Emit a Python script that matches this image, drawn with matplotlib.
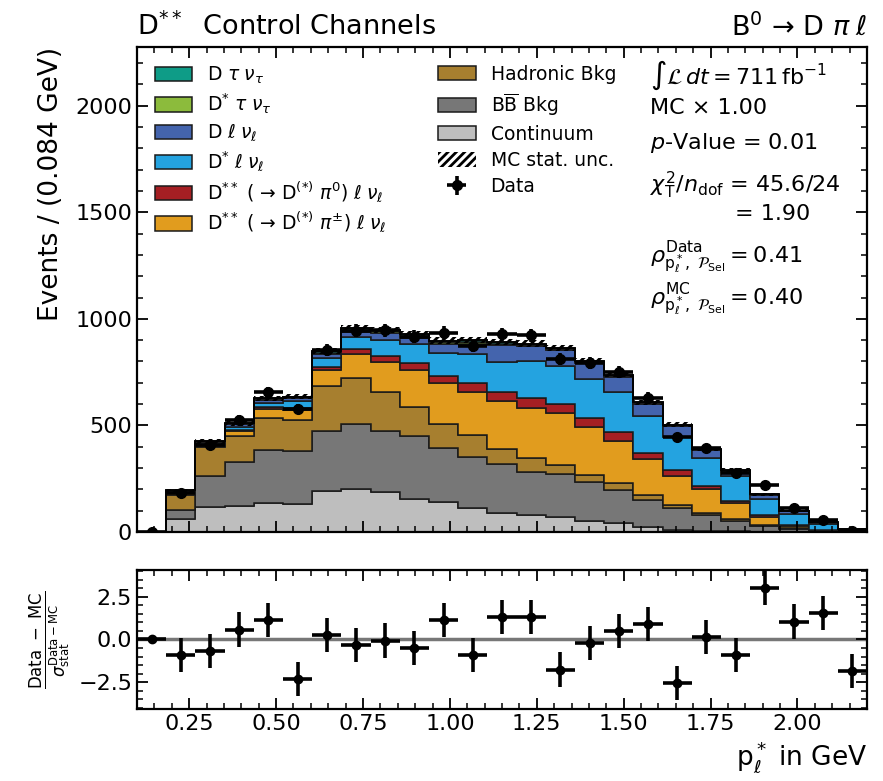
import numpy as np
import matplotlib
matplotlib.use("Agg")
import matplotlib.pyplot as plt
from matplotlib.patches import Patch
from matplotlib.ticker import MultipleLocator

plt.rcParams['font.family'] = ['DejaVu Sans']
plt.rcParams['mathtext.fontset'] = 'dejavusans'
plt.rcParams['hatch.linewidth'] = 2.0

# ---------------- data ----------------
bin_low = 0.1
bin_width = 0.084
n_bins = 25

continuum = [0, 59, 119, 123, 136, 131, 194, 203, 186, 156, 139, 114, 91, 81, 69, 53, 41, 25, 10, 5, 3, 1, 0, 0, 0]
bb_bkg    = [0, 44, 144, 204, 248, 247, 281, 303, 290, 293, 253, 239, 228, 202, 201, 180, 156, 125, 101, 75, 50, 27, 14, 3, 1]
hadronic  = [0, 70, 134, 123, 153, 147, 208, 217, 180, 138, 117, 100, 69, 62, 44, 34, 31, 22, 16, 11, 8, 5, 3, 1, 0]
dss_pipm  = [0, 12, 8, 23, 41, 47, 76, 113, 142, 172, 188, 206, 227, 238, 242, 227, 200, 172, 137, 109, 77, 39, 13, 4, 0]
dss_pi0   = [0, 2, 2, 5, 7, 11, 16, 22, 28, 32, 34, 38, 44, 45, 43, 42, 39, 28, 27, 17, 9, 8, 4, 1, 0]
ds_lnu    = [0, 3, 6, 13, 18, 30, 39, 55, 77, 89, 107, 136, 139, 174, 179, 180, 191, 172, 156, 128, 117, 73, 52, 28, 11]
d_lnu     = [0, 3, 8, 15, 16, 14, 23, 26, 31, 32, 46, 51, 78, 70, 75, 75, 70, 56, 50, 39, 19, 19, 12, 6, 2]
ds_taunu  = [0, 1, 2, 2, 4, 4, 5, 8, 7, 9, 7, 8, 8, 6, 6, 5, 5, 4, 3, 3, 3, 2, 1, 1, 0]
d_taunu   = [0, 1, 2, 2, 4, 4, 5, 8, 7, 9, 7, 8, 8, 6, 6, 5, 5, 4, 3, 3, 3, 2, 1, 1, 0]
mc_stat_unc = [0, 7, 10, 11, 12, 12, 14, 15, 15, 15, 15, 15, 15, 15, 14, 14, 13, 12, 11, 10, 9, 7, 6, 4, 3]

data = [0, 183, 409, 525, 656, 578, 855, 945, 946, 916, 934, 872, 928, 922, 810, 795, 750, 630, 445, 393, 275, 220, 112, 57, 7]

pulls = [0.0, -0.93, -0.68, 0.58, 1.12, -2.29, 0.25, -0.33, -0.06, -0.48, 1.16, -0.93, 1.32, 1.32,
         -1.76, -0.19, 0.50, 0.91, -2.56, 0.16, -0.91, 3.02, 1.05, 1.55, -1.86]
pull_err = [0] + [1] * 24

labels = [
    r"D $\tau\;\nu_\tau$",
    r"D$^{*}$ $\tau\;\nu_\tau$",
    r"D $\ell\;\nu_\ell$",
    r"D$^{*}$ $\ell\;\nu_\ell$",
    r"D$^{**}$ ( → D$^{(*)}$ $\pi^0$) $\ell\;\nu_\ell$",
    r"D$^{**}$ ( → D$^{(*)}$ $\pi^{\pm}$) $\ell\;\nu_\ell$",
    "Hadronic Bkg",
    r"B$\overline{\mathrm{B}}$ Bkg",
    "Continuum",
]
colors = ["#0E9C87", "#8CBB3C", "#4464AD", "#24A3E0", "#A51F23", "#E19C1E",
          "#A77F2F", "#777777", "#BEBEBE"]
components = [d_taunu, ds_taunu, d_lnu, ds_lnu, dss_pi0, dss_pipm, hadronic, bb_bkg, continuum]

# ---------------- figure ----------------
edges = bin_low + bin_width * np.arange(n_bins + 1)
centers = 0.5 * (edges[:-1] + edges[1:])

fig = plt.figure(figsize=(8.83, 7.81), dpi=100)
ax = fig.add_axes([0.1552, 0.3188, 0.8267, 0.621])
axp = fig.add_axes([0.1552, 0.0922, 0.8267, 0.178], sharex=ax)

# stacked histogram, bottom (continuum) to top
base = np.zeros(n_bins)
for comp, col in zip(components[::-1], colors[::-1]):
    vals = np.asarray(comp, dtype=float)
    ax.stairs(base + vals, edges, baseline=base.copy(), fill=True,
              facecolor=col, edgecolor="#1a1a1a", linewidth=1.1)
    base = base + vals
total = base
unc = np.asarray(mc_stat_unc, dtype=float)
ax.stairs(total + unc, edges, baseline=total - unc, fill=True,
          facecolor="none", edgecolor="black", hatch="////", linewidth=0)
ax.stairs(total, edges, color="black", linewidth=1.3)

d = np.asarray(data, dtype=float)
eb = ax.errorbar(centers, d, xerr=bin_width / 2, yerr=np.sqrt(d), fmt="o", color="black",
                 ms=7, elinewidth=2.6, capsize=0)

ax.set_xlim(edges[0], edges[-1])
ax.set_ylim(0, 2275)
ax.set_ylabel("Events / (0.084 GeV)", fontsize=19, labelpad=8, loc="top")
ax.yaxis.set_major_locator(MultipleLocator(500))
ax.yaxis.set_minor_locator(MultipleLocator(100))
ax.xaxis.set_major_locator(MultipleLocator(0.25))
ax.xaxis.set_minor_locator(MultipleLocator(0.05))
for a in (ax, axp):
    a.tick_params(which="both", direction="in", top=True, right=True, labelsize=16)
    a.tick_params(which="major", length=8, width=1.3)
    a.tick_params(which="minor", length=4, width=1.1)
    for s in a.spines.values():
        s.set_linewidth(1.6)
ax.tick_params(labelbottom=False)

# legend (two columns drawn as two legends so rows keep equal spacing)
handles = [Patch(facecolor=c, edgecolor="#1a1a1a", linewidth=1.1) for c in colors]
handles.append(Patch(facecolor="none", edgecolor="black", hatch="////", linewidth=0))
handles.append(eb)
leg_labels = labels + ["MC stat. unc.", "Data"]
leg_kw = dict(loc="upper left", frameon=False, fontsize=13.5, handlelength=2.0,
              handleheight=0.8, handletextpad=0.8, borderaxespad=0.55)
leg1 = ax.legend(handles[:6], leg_labels[:6], bbox_to_anchor=(0.0, 1.0),
                 labelspacing=0.28, **leg_kw)
ax.add_artist(leg1)
ax.legend(handles[6:], leg_labels[6:], bbox_to_anchor=(0.388, 1.0),
          labelspacing=0.38, **leg_kw)

# info text
tx = 0.703
ax.text(tx, 0.942, r"$\int\mathcal{L}\,dt = 711\,\mathrm{fb}^{-1}$", transform=ax.transAxes,
        fontsize=16, va="center", ha="left")
ax.text(tx, 0.874, "MC × 1.00", transform=ax.transAxes, fontsize=16, va="center", ha="left")
ax.text(tx, 0.802, r"$p$-Value = 0.01", transform=ax.transAxes, fontsize=16, va="center", ha="left")
ax.text(tx, 0.715, r"$\chi^2_\mathrm{T}/n_\mathrm{dof}$ = 45.6/24", transform=ax.transAxes,
        fontsize=16, va="center", ha="left")
ax.text(0.819, 0.656, "= 1.90", transform=ax.transAxes, fontsize=16, va="center", ha="left")
ax.text(tx, 0.566, r"$\rho^{\mathrm{Data}}_{\mathrm{p}^*_\ell,\ \mathcal{P}_\mathrm{Sel}} = 0.41$",
        transform=ax.transAxes, fontsize=16, va="center", ha="left")
ax.text(tx, 0.480, r"$\rho^{\mathrm{MC}}_{\mathrm{p}^*_\ell,\ \mathcal{P}_\mathrm{Sel}} = 0.40$",
        transform=ax.transAxes, fontsize=16, va="center", ha="left")

# titles
ax.text(0.0, 1.012, r"D$^{**}$  Control Channels", transform=ax.transAxes, fontsize=19.5,
        va="bottom", ha="left")
ax.text(1.0, 1.012, r"B$^0$ → D $\pi\;\ell$", transform=ax.transAxes, fontsize=19.5,
        va="bottom", ha="right")

# pull panel
axp.axhline(0, color="#777777", linewidth=2.5, zorder=1)
axp.errorbar(centers, pulls, xerr=bin_width / 2, yerr=pull_err, fmt="o", color="black",
             ms=6, elinewidth=2.6, capsize=0, zorder=3)
axp.set_ylim(-4.07, 4.07)
axp.yaxis.set_major_locator(MultipleLocator(2.5))
axp.yaxis.set_minor_locator(MultipleLocator(0.5))
axp.set_ylabel(r"$\frac{\mathrm{Data}\ -\ \mathrm{MC}}{\sigma^{\mathrm{Data-MC}}_{\mathrm{stat}}}$",
               fontsize=17, labelpad=4)
axp.set_xlabel(r"p$^*_\ell$ in GeV", fontsize=19, loc="right")

fig.savefig("out.png", dpi=100)
